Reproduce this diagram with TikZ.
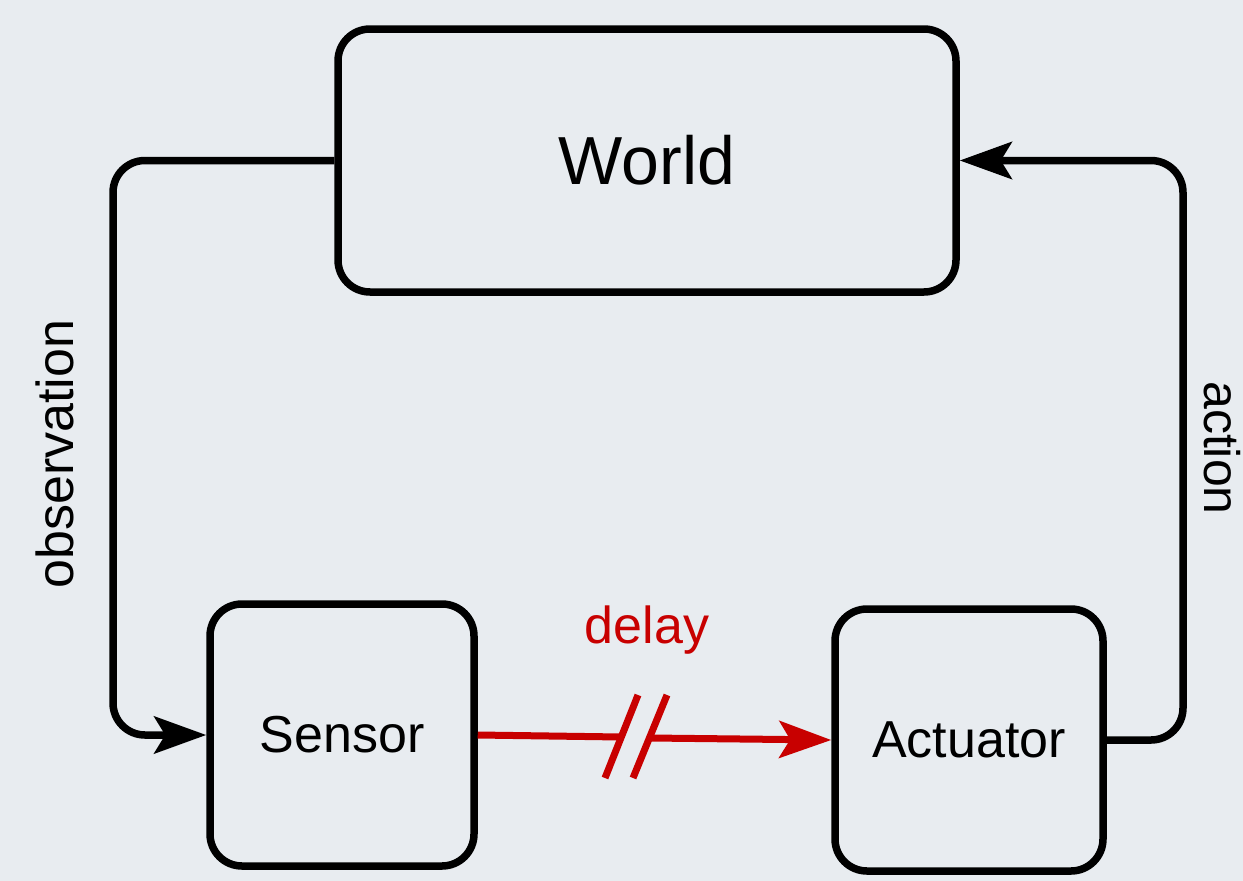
\documentclass[tikz,border=0pt]{standalone}
\usepackage{fontspec}
\setmainfont{Liberation Sans}
\usetikzlibrary{arrows.meta}
\definecolor{bgcol}{RGB}{232,236,240}
\definecolor{delayred}{RGB}{200,0,0}
\begin{document}
\begin{tikzpicture}[x=1pt,y=-1pt,
  box/.style={draw=black, line width=7.5pt, rounded corners=32pt, inner sep=0pt},
  conn/.style={draw=black, line width=7.5pt, rounded corners=32pt},
  tip/.style={-{Stealth[length=52pt,width=37pt,inset=11pt]}},
  lbl/.style={font=\fontsize{52}{60}\selectfont, inner sep=0pt, anchor=base}]
\fill[bgcol] (0,0) rectangle (1243,881);
\useasboundingbox (0,0) rectangle (1243,881);

\node[box, minimum width=618pt, minimum height=263pt, font=\fontsize{68}{80}\selectfont] (World) at (647,160.5) {World};
\node[box, minimum width=264pt, minimum height=262pt, font=\fontsize{52}{60}\selectfont] (Sensor) at (342,735) {Sensor};
\node[box, minimum width=268pt, minimum height=262pt, font=\fontsize{52}{60}\selectfont] (Actuator) at (969,740) {Actuator};

\coordinate (obsx) at (113,0);
\coordinate (actx) at (1183,0);
\draw[conn, tip] (World.west) -- (World.west -| obsx) -- (obsx |- Sensor.west) -- (Sensor.west);
\draw[conn, tip] (Actuator.east) -- (Actuator.east -| actx) -- (actx |- World.east) -- (World.east);

\node[lbl, rotate=90] (obs) at (73,454) {observation};
\node[lbl, rotate=-90, font=\fontsize{50}{60}\selectfont] (act) at (1204,448) {action};

% delay connector
\coordinate (b1) at (621,737);
\coordinate (b2) at (650,738);
\draw[delayred, line width=7pt] (Sensor.east) -- (b1);
\draw[delayred, line width=7pt, tip] (b2) -- (Actuator.west);
\draw[delayred, line width=7pt] (638,695) -- (605,778);
\draw[delayred, line width=7pt] (667,695) -- (633,778);
\node[lbl, text=delayred] (delay) at (647,643) {delay};
\end{tikzpicture}
\end{document}
